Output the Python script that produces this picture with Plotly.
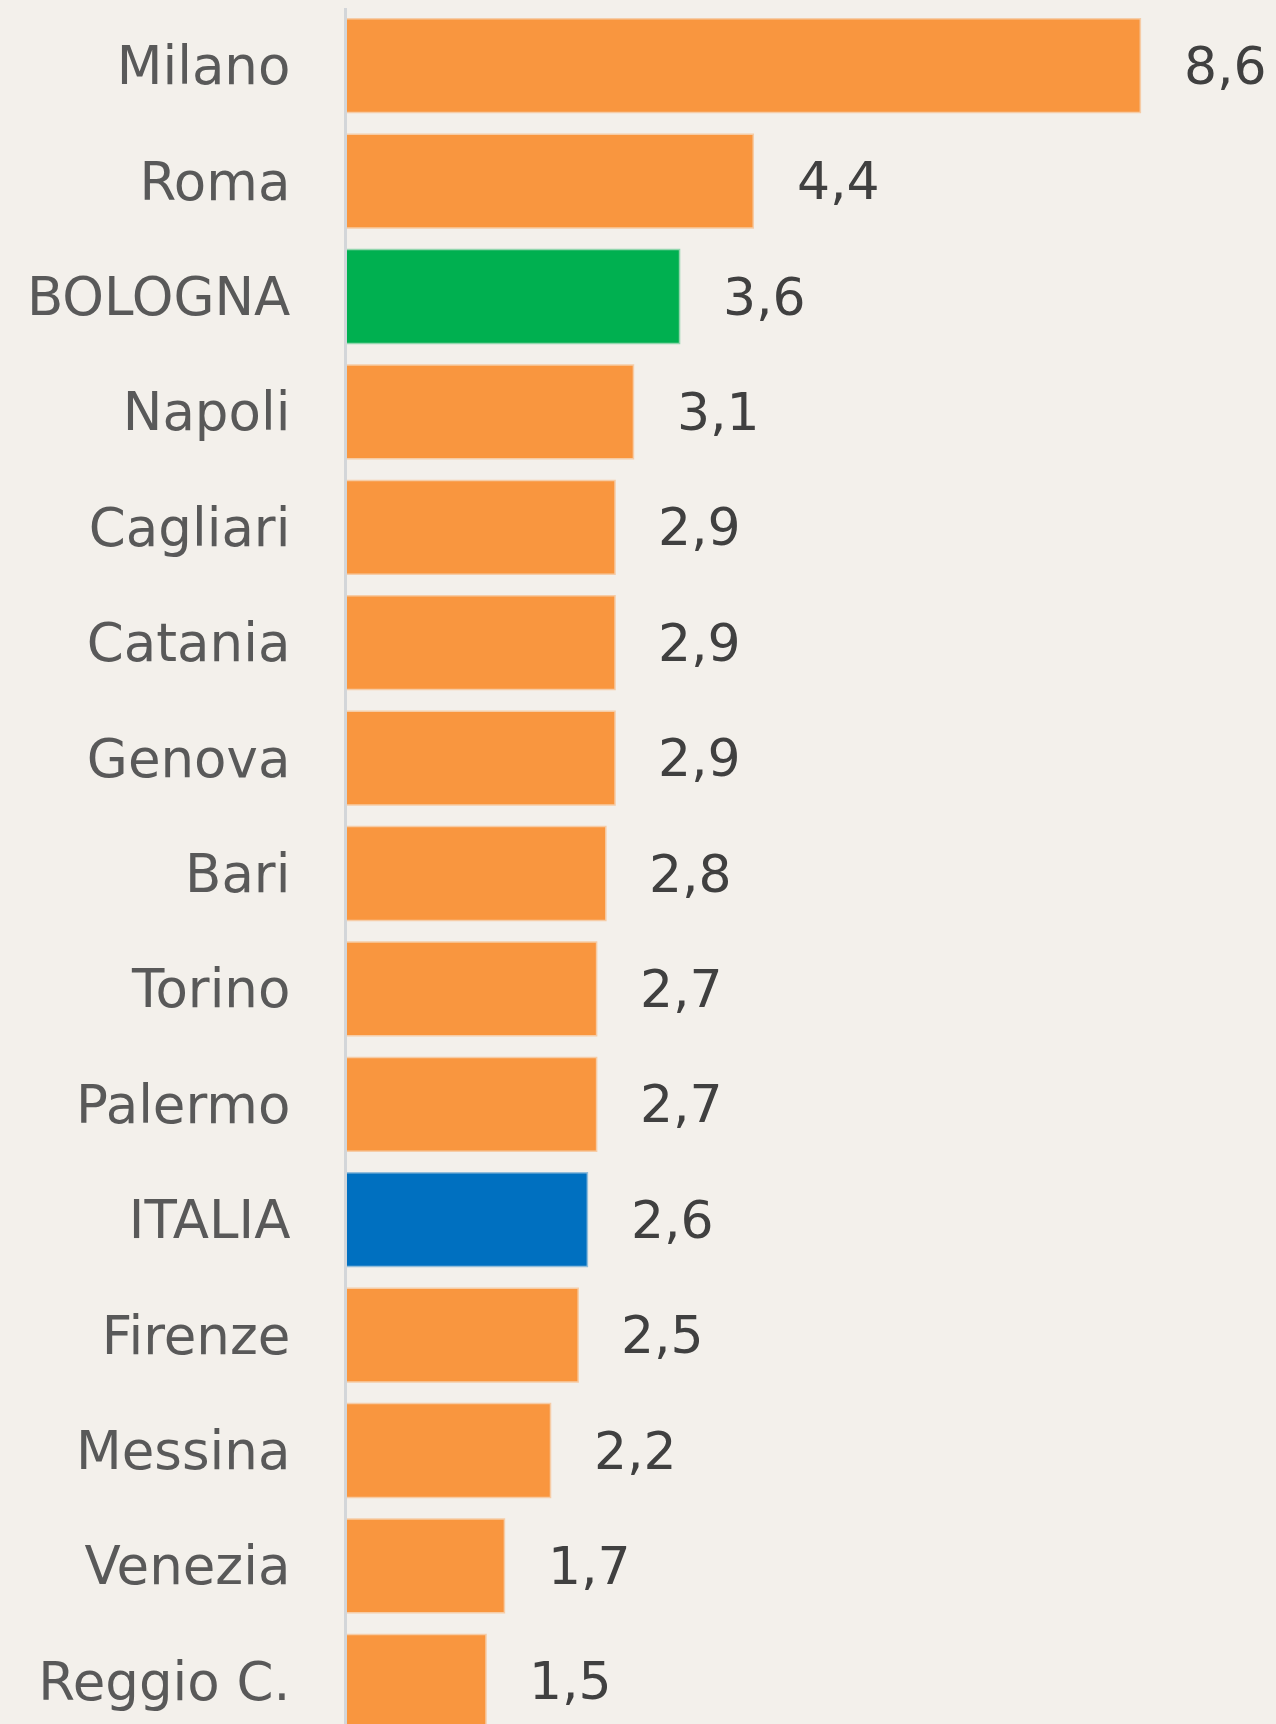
import plotly.graph_objects as go

cities = ["Milano", "Roma", "BOLOGNA", "Napoli", "Cagliari", "Catania", "Genova", "Bari",
          "Torino", "Palermo", "ITALIA", "Firenze", "Messina", "Venezia", "Reggio C."]
values = [8.6, 4.4, 3.6, 3.1, 2.9, 2.9, 2.9, 2.8, 2.7, 2.7, 2.6, 2.5, 2.2, 1.7, 1.5]
value_labels = ["8,6", "4,4", "3,6", "3,1", "2,9", "2,9", "2,9", "2,8", "2,7", "2,7",
                "2,6", "2,5", "2,2", "1,7", "1,5"]

ORANGE = "#F9963F"
GREEN = "#00B050"
BLUE = "#0070C0"
colors = [GREEN if c == "BOLOGNA" else BLUE if c == "ITALIA" else ORANGE for c in cities]
line_colors = ["rgba(0,176,80,0.4)" if c == "BOLOGNA" else "rgba(0,112,192,0.4)" if c == "ITALIA"
               else "rgba(249,150,63,0.4)" for c in cities]

BG = "#F3F0EB"
FONT = "DejaVu Sans"

fig = go.Figure(go.Bar(
    y=cities, x=values, orientation="h",
    marker=dict(color=colors, line=dict(color=line_colors, width=3)),
    hoverinfo="skip",
))

for c, v, t in zip(cities, values, value_labels):
    fig.add_annotation(x=v, y=c, text=t, showarrow=False, xanchor="left", yanchor="middle",
                       xshift=42, font=dict(family=FONT, size=52, color="#404040"))

fig.update_layout(
    width=1276, height=1724,
    margin=dict(l=347, r=0, t=8, b=0),
    paper_bgcolor=BG, plot_bgcolor=BG,
    bargap=0.2,
    showlegend=False,
    xaxis=dict(range=[0, 10.08], showgrid=False, zeroline=False, showticklabels=False,
               showline=False, fixedrange=True),
    yaxis=dict(type="category", categoryorder="array", categoryarray=cities,
               range=[14.37, -0.5], showgrid=False, zeroline=False,
               showline=True, linecolor="#D3D6D9", linewidth=3,
               ticks="", ticklabelstandoff=43, fixedrange=True,
               tickfont=dict(family=FONT, size=53, color="#595959")),
)

fig.write_html("out.html", config={"displayModeBar": False},
               post_script="document.body.style.margin='0';document.body.style.background='%s';" % BG)
